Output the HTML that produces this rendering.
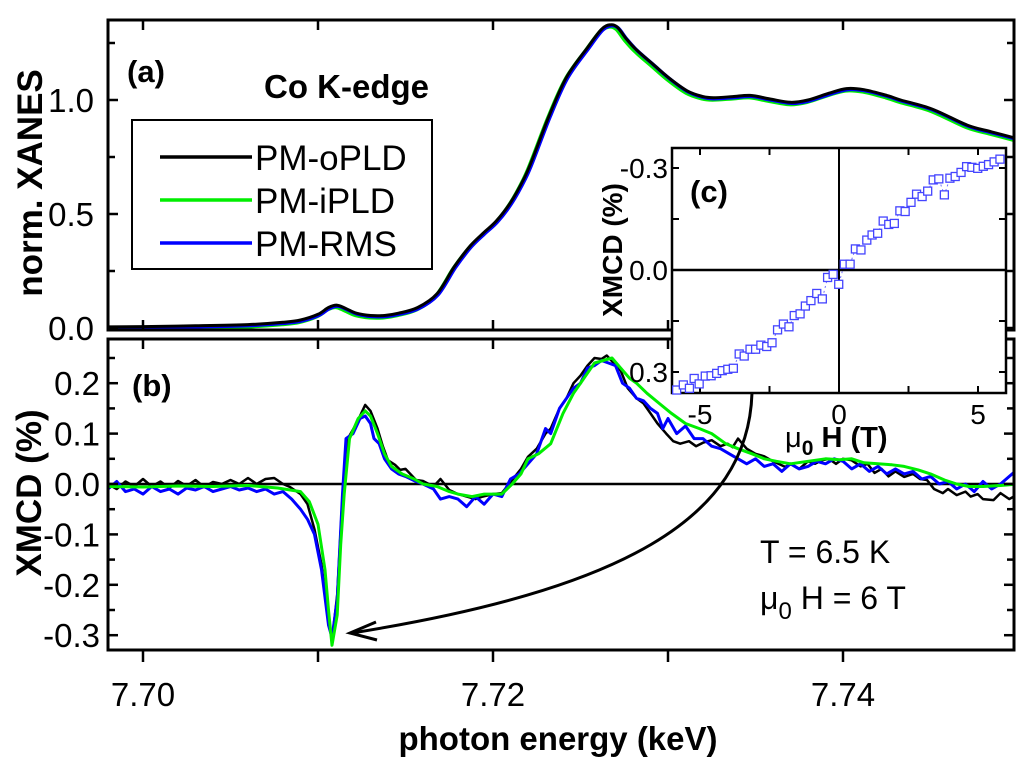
<!DOCTYPE html>
<html><head><meta charset="utf-8"><style>
html,body{margin:0;padding:0;background:#fff;}
svg{display:block;font-family:"Liberation Sans",Arial,sans-serif;}
</style></head><body>
<svg id="chart" width="1024" height="760" viewBox="0 0 1024 760" xmlns="http://www.w3.org/2000/svg">
<g id="gA"></g>
<g id="gB"></g>
<g id="gArrow"></g>
<g id="gC"></g>
</svg>
<script>
// ---- data ----
const xanesE=[7.698,7.700,7.703,7.706,7.708,7.709,7.7100,7.7106,7.7111,7.7116,7.7122,7.713,7.7138,7.7146,7.7157,7.7168,7.7178,7.7187,7.7195,7.7202,7.721,7.7218,7.7223,7.7232,7.7242,7.7254,7.7262,7.7267,7.7271,7.7276,7.7282,7.7291,7.7300,7.7311,7.7320,7.7326,7.7337,7.7347,7.7358,7.7370,7.7380,7.7392,7.7402,7.7412,7.7425,7.7433,7.7451,7.7471,7.7485,7.75];
const xanesV=[0.005,0.006,0.01,0.015,0.025,0.035,0.06,0.09,0.10,0.085,0.065,0.055,0.055,0.065,0.09,0.15,0.27,0.36,0.42,0.47,0.55,0.66,0.75,0.93,1.10,1.23,1.31,1.33,1.32,1.27,1.22,1.16,1.10,1.04,1.015,1.01,1.015,1.02,1.005,0.99,1.0,1.03,1.05,1.045,1.02,1.0,0.96,0.89,0.86,0.83];
const xmcdBlack=[[7.698,0.0],[7.6985,-0.01],[7.699,0.005],[7.6995,-0.005],[7.700,0.01],[7.7005,-0.005],[7.701,0.005],[7.7015,-0.008],[7.702,0.006],[7.7025,-0.004],[7.703,0.008],[7.7035,-0.006],[7.704,0.004],[7.7045,0.0],[7.705,0.008],[7.7055,0.0],[7.706,0.012],[7.7065,0.0],[7.707,0.01],[7.7075,0.012],[7.708,0.0],[7.7084,-0.006],[7.709,-0.02],[7.7094,-0.04],[7.7098,-0.09],[7.7102,-0.16],[7.7106,-0.27],[7.7108,-0.31],[7.7111,-0.22],[7.7114,-0.025],[7.7117,0.09],[7.7122,0.12],[7.7127,0.157],[7.713,0.145],[7.7134,0.11],[7.7137,0.075],[7.714,0.047],[7.7144,0.038],[7.7147,0.028],[7.715,0.03],[7.7156,0.008],[7.716,0.006],[7.7166,-0.005],[7.717,0.01],[7.7175,-0.012],[7.718,-0.02],[7.7185,-0.025],[7.719,-0.03],[7.7194,-0.025],[7.72,-0.02],[7.7205,-0.018],[7.7211,0.008],[7.7216,0.03],[7.722,0.054],[7.7225,0.07],[7.723,0.1],[7.7233,0.11],[7.7238,0.15],[7.7242,0.17],[7.7246,0.2],[7.725,0.215],[7.7254,0.235],[7.7258,0.25],[7.7262,0.248],[7.7265,0.255],[7.7269,0.24],[7.7273,0.225],[7.7277,0.19],[7.7282,0.17],[7.7286,0.16],[7.729,0.14],[7.7294,0.12],[7.7299,0.10],[7.7303,0.085],[7.7307,0.08],[7.7312,0.085],[7.7316,0.075],[7.732,0.082],[7.7325,0.087],[7.733,0.075],[7.7334,0.08],[7.7337,0.073],[7.734,0.09],[7.7345,0.07],[7.735,0.06],[7.7355,0.055],[7.736,0.045],[7.7367,0.034],[7.737,0.04],[7.7375,0.03],[7.738,0.045],[7.7384,0.04],[7.7388,0.047],[7.7392,0.05],[7.7396,0.04],[7.74,0.05],[7.7405,0.047],[7.741,0.035],[7.7414,0.04],[7.7418,0.022],[7.7422,0.03],[7.7426,0.015],[7.743,0.025],[7.7435,0.014],[7.744,0.02],[7.7444,0.01],[7.7448,0.008],[7.7452,-0.01],[7.7457,-0.018],[7.746,-0.01],[7.7465,-0.022],[7.747,-0.015],[7.7473,-0.025],[7.7477,-0.02],[7.748,-0.03],[7.7486,-0.032],[7.749,-0.018],[7.7495,-0.03],[7.75,-0.02]];
const xmcdGreen=[[7.698,-0.005],[7.700,-0.006],[7.702,-0.004],[7.704,-0.005],[7.706,-0.003],[7.7077,-0.008],[7.709,-0.015],[7.7095,-0.035],[7.710,-0.08],[7.7104,-0.17],[7.7106,-0.25],[7.7108,-0.32],[7.7111,-0.26],[7.7113,-0.12],[7.7115,-0.02],[7.7118,0.09],[7.7123,0.13],[7.7127,0.145],[7.713,0.135],[7.7134,0.10],[7.7138,0.06],[7.7142,0.035],[7.7148,0.02],[7.7155,0.01],[7.716,0.0],[7.7168,-0.005],[7.7175,-0.015],[7.718,-0.02],[7.7188,-0.025],[7.7195,-0.02],[7.7205,-0.02],[7.7211,0.0],[7.7216,0.02],[7.722,0.05],[7.7226,0.06],[7.7233,0.08],[7.724,0.14],[7.7246,0.18],[7.7252,0.21],[7.7258,0.24],[7.7263,0.245],[7.7268,0.25],[7.7273,0.23],[7.7278,0.21],[7.7282,0.2],[7.7288,0.18],[7.7295,0.16],[7.7302,0.14],[7.731,0.12],[7.7318,0.11],[7.7325,0.1],[7.7333,0.08],[7.734,0.07],[7.7348,0.06],[7.7355,0.05],[7.7362,0.045],[7.737,0.04],[7.738,0.045],[7.739,0.05],[7.7398,0.048],[7.7405,0.05],[7.7412,0.042],[7.742,0.04],[7.7428,0.038],[7.7435,0.035],[7.7443,0.028],[7.745,0.02],[7.7458,0.008],[7.7465,0.0],[7.7472,-0.005],[7.748,-0.005],[7.749,-0.003],[7.75,0.0]];
const xmcdBlue=[[7.698,-0.01],[7.6985,0.005],[7.699,-0.015],[7.6995,-0.01],[7.700,-0.02],[7.7005,-0.005],[7.701,-0.015],[7.7015,-0.01],[7.702,-0.02],[7.7025,-0.008],[7.703,-0.012],[7.7035,-0.005],[7.704,-0.015],[7.7045,-0.01],[7.705,-0.005],[7.7055,-0.012],[7.706,-0.008],[7.7065,-0.015],[7.707,-0.01],[7.7075,-0.02],[7.708,-0.015],[7.7085,-0.03],[7.709,-0.05],[7.7094,-0.07],[7.7098,-0.1],[7.7102,-0.17],[7.7106,-0.28],[7.7108,-0.305],[7.7111,-0.23],[7.7114,-0.02],[7.7116,0.09],[7.712,0.1],[7.7124,0.13],[7.7127,0.135],[7.713,0.12],[7.7132,0.09],[7.7135,0.08],[7.7138,0.05],[7.7142,0.03],[7.7146,0.02],[7.715,0.015],[7.7156,0.005],[7.716,0.0],[7.7166,-0.01],[7.717,-0.03],[7.7175,-0.025],[7.718,-0.03],[7.7185,-0.045],[7.719,-0.025],[7.7195,-0.04],[7.72,-0.02],[7.7205,-0.025],[7.721,0.01],[7.7215,0.02],[7.722,0.04],[7.7225,0.06],[7.723,0.11],[7.7233,0.1],[7.7238,0.15],[7.7242,0.17],[7.7246,0.19],[7.725,0.2],[7.7254,0.23],[7.7258,0.235],[7.7262,0.245],[7.7266,0.24],[7.727,0.235],[7.7274,0.2],[7.7278,0.19],[7.7282,0.17],[7.7286,0.165],[7.729,0.15],[7.7294,0.14],[7.7297,0.11],[7.73,0.13],[7.7305,0.1],[7.731,0.115],[7.7315,0.09],[7.732,0.09],[7.7325,0.075],[7.733,0.07],[7.7335,0.06],[7.734,0.05],[7.7345,0.04],[7.735,0.05],[7.7355,0.035],[7.736,0.04],[7.7365,0.025],[7.737,0.04],[7.7375,0.03],[7.738,0.035],[7.7385,0.045],[7.739,0.04],[7.7395,0.05],[7.74,0.045],[7.7405,0.03],[7.741,0.04],[7.7415,0.025],[7.742,0.035],[7.7425,0.02],[7.743,0.03],[7.7435,0.02],[7.744,0.025],[7.7445,0.01],[7.745,0.015],[7.7455,0.0],[7.746,0.005],[7.7465,-0.01],[7.747,0.0],[7.7475,-0.015],[7.748,0.005],[7.7485,-0.01],[7.749,0.0],[7.7495,0.015],[7.75,0.03]];
const insetH=[-5.84,-5.60,-5.38,-5.21,-5.03,-4.81,-4.60,-4.40,-4.20,-4.00,-3.80,-3.59,-3.41,-3.20,-3.00,-2.81,-2.60,-2.41,-2.21,-2.00,-1.80,-1.61,-1.40,-1.21,-1.01,-0.80,-0.60,-0.41,-0.21,-0.01,0.19,0.40,0.59,0.79,1.00,1.19,1.39,1.59,1.79,1.99,2.19,2.38,2.59,2.79,2.99,3.19,3.39,3.59,3.79,3.99,4.18,4.39,4.59,4.78,4.99,5.19,5.38,5.58,5.79];
const insetV=[0.353,0.338,0.348,0.319,0.335,0.312,0.311,0.304,0.296,0.292,0.289,0.247,0.253,0.233,0.233,0.221,0.225,0.214,0.176,0.159,0.167,0.134,0.129,0.106,0.090,0.069,0.085,0.022,0.013,0.042,-0.017,-0.017,-0.062,-0.059,-0.088,-0.103,-0.108,-0.144,-0.134,-0.137,-0.174,-0.172,-0.199,-0.223,-0.216,-0.232,-0.265,-0.268,-0.221,-0.270,-0.275,-0.287,-0.304,-0.302,-0.299,-0.305,-0.310,-0.318,-0.326];
const energyTicks=[7.70,7.71,7.72,7.73,7.74];
const energyLabels=["7.70","7.72","7.74"];
const xanesTicks=[0,0.25,0.5,0.75,1.0,1.25];
const xanesLabels=["0.0","0.5","1.0"];
const xmcdTicks=[-0.3,-0.25,-0.2,-0.15,-0.1,-0.05,0,0.05,0.1,0.15,0.2,0.25];
const xmcdLabels=["-0.3","-0.2","-0.1","0.0","0.1","0.2"];
const insetHTicks=[-5,-2.5,0,2.5,5];
const insetHLabels=["-5","0","5"];
const insetVTicks=[-0.3,-0.15,0,0.15,0.3];
const insetVLabels=["-0.3","0.0","0.3"];

// ---- axes ----
const L=108,R=1014;
const xE=e=>143+(e-7.70)*17500;
const yA=v=>328-228*v;
const yB=v=>484-504*v;
const xH=h=>839+27.8*h;
const yC=v=>270+340*v;
const NS="http://www.w3.org/2000/svg";
function mk(parent,tag,attrs,text){const el=document.createElementNS(NS,tag);for(const k in attrs)el.setAttribute(k,attrs[k]);if(text!==undefined)el.textContent=text;parent.appendChild(el);return el;}
function smoothPath(pts){let d="M"+pts[0][0].toFixed(1)+","+pts[0][1].toFixed(1);for(let i=0;i<pts.length-1;i++){const p0=pts[i-1]||pts[i],p1=pts[i],p2=pts[i+1],p3=pts[i+2]||p2;const c1=[p1[0]+(p2[0]-p0[0])/6,p1[1]+(p2[1]-p0[1])/6],c2=[p2[0]-(p3[0]-p1[0])/6,p2[1]-(p3[1]-p1[1])/6];d+="C"+c1[0].toFixed(1)+","+c1[1].toFixed(1)+" "+c2[0].toFixed(1)+","+c2[1].toFixed(1)+" "+p2[0].toFixed(1)+","+p2[1].toFixed(1);}return d;}
const svg=document.getElementById('chart');
const defs=mk(svg,'defs',{});
const cpA=mk(defs,'clipPath',{id:'clipA'});mk(cpA,'rect',{x:L,y:20,width:R-L,height:310});
const cpB=mk(defs,'clipPath',{id:'clipB'});mk(cpB,'rect',{x:L,y:339,width:R-L,height:311});

// ---- panel a ----
const gA=document.getElementById('gA');
const xanesPts=xanesE.map((e,i)=>[xE(e),yA(xanesV[i])]);
const dA=smoothPath(xanesPts);
let p;
p=mk(gA,'path',{d:dA,fill:'none',stroke:'#00ee00','stroke-width':4,transform:'translate(-1,2)','clip-path':'url(#clipA)'});


p=mk(gA,'path',{d:dA,fill:'none',stroke:'#0000ff','stroke-width':3.5,transform:'translate(1,1)','clip-path':'url(#clipA)'});


p=mk(gA,'path',{d:dA,fill:'none',stroke:'#000','stroke-width':3,'clip-path':'url(#clipA)'});


let fr=mk(gA,'rect',{x:L,y:20,width:R-L,height:310,fill:'none',stroke:'#000','stroke-width':3});


energyTicks.forEach(e=>{mk(gA,'line',{x1:xE(e),x2:xE(e),y1:20,y2:30,stroke:'#000','stroke-width':2.5});mk(gA,'line',{x1:xE(e),x2:xE(e),y1:330,y2:320,stroke:'#000','stroke-width':2.5});});
xanesTicks.forEach((v,i)=>{const len=(i%2===0)?10:7;mk(gA,'line',{x1:L,x2:L+len,y1:yA(v),y2:yA(v),stroke:'#000','stroke-width':2.5});mk(gA,'line',{x1:R,x2:R-len,y1:yA(v),y2:yA(v),stroke:'#000','stroke-width':2.5});});
xanesLabels.forEach(s=>{const t=mk(gA,'text',{x:94,y:yA(parseFloat(s))+12,'text-anchor':'end','font-size':33,fill:'#000'},s);

});
let t=mk(gA,'text',{x:0,y:0,transform:'translate(42,183) rotate(-90)','text-anchor':'middle','font-size':35,'font-weight':'bold'},'norm. XANES');


t=mk(gA,'text',{x:127,y:82,'font-size':31,'font-weight':'bold'},'(a)');


t=mk(gA,'text',{x:264,y:98,'font-size':33,'font-weight':'bold'},'Co K-edge');


const leg=mk(gA,'g',{});


mk(leg,'rect',{x:132,y:120,width:300,height:149,fill:'#fff',stroke:'#000','stroke-width':2});
const legNames=["PM-oPLD","PM-iPLD","PM-RMS"];
const legColors=["#000","#00ee00","#0000ff"];
legNames.forEach((n,i)=>{const y=157+i*43;const g=mk(leg,'g',{});


mk(g,'line',{x1:160,x2:252,y1:y,y2:y,stroke:legColors[i],'stroke-width':3.5});mk(g,'text',{x:255,y:y+13,'font-size':35},n);});

// ---- panel b ----
const gB=document.getElementById('gB');
mk(gB,'line',{x1:L,x2:R,y1:yB(0),y2:yB(0),stroke:'#000','stroke-width':2.5});
const series=[[xmcdBlack,'#000',2.5,'xmcd-pm-opld'],[xmcdBlue,'#0000ff',3,'xmcd-pm-rms'],[xmcdGreen,'#00ee00',3,'xmcd-pm-ipld']];
series.forEach(s=>{const pts=s[0].map(d=>xE(d[0]).toFixed(1)+","+yB(d[1]).toFixed(1)).join(" ");const pl=mk(gB,'polyline',{points:pts,fill:'none',stroke:s[1],'stroke-width':s[2],'stroke-linejoin':'round','clip-path':'url(#clipB)'});

});
fr=mk(gB,'rect',{x:L,y:339,width:R-L,height:311,fill:'none',stroke:'#000','stroke-width':3});


energyTicks.forEach(e=>{mk(gB,'line',{x1:xE(e),x2:xE(e),y1:339,y2:349,stroke:'#000','stroke-width':2.5});mk(gB,'line',{x1:xE(e),x2:xE(e),y1:650,y2:662,stroke:'#000','stroke-width':2.5});});
xmcdTicks.forEach((v,i)=>{const len=(i%2===0)?10:7;mk(gB,'line',{x1:L,x2:L+len,y1:yB(v),y2:yB(v),stroke:'#000','stroke-width':2.5});mk(gB,'line',{x1:R,x2:R-len,y1:yB(v),y2:yB(v),stroke:'#000','stroke-width':2.5});});
xmcdLabels.forEach(s=>{const tt=mk(gB,'text',{x:100,y:yB(parseFloat(s))+12,'text-anchor':'end','font-size':33},s);

});
energyLabels.forEach(s=>{const tt=mk(gB,'text',{x:xE(parseFloat(s)),y:706,'text-anchor':'middle','font-size':33},s);

});
t=mk(gB,'text',{x:0,y:0,transform:'translate(41,493) rotate(-90)','text-anchor':'middle','font-size':35,'font-weight':'bold'},'XMCD (%)');


t=mk(gB,'text',{x:558,y:750,'text-anchor':'middle','font-size':33,'font-weight':'bold'},'photon energy (keV)');


t=mk(gB,'text',{x:132,y:396,'font-size':31,'font-weight':'bold'},'(b)');


t=mk(gB,'text',{x:760,y:563,'font-size':32},'T = 6.5 K');


t=mk(gB,'text',{x:760,y:609,'font-size':32});


t.innerHTML='<tspan>μ</tspan><tspan dy="10" font-size="24">0</tspan><tspan dy="-10"> H = 6 T</tspan>';

// ---- arrow ----
const gArr=document.getElementById('gArrow');
mk(gArr,'path',{d:'M752,393 C748,520 620,590 352,633',fill:'none',stroke:'#000','stroke-width':3});
mk(gArr,'path',{d:'M376,622 L350,633 L377,640',fill:'none',stroke:'#000','stroke-width':3});

// ---- inset c ----
const gC=document.getElementById('gC');
const cx0=672,cy0=148,cx1=1006,cy1=393;
mk(gC,'rect',{x:cx0,y:cy0,width:cx1-cx0,height:cy1-cy0,fill:'#fff',stroke:'#000','stroke-width':2.5});
mk(gC,'line',{x1:cx0,x2:cx1,y1:yC(0),y2:yC(0),stroke:'#000','stroke-width':2.5});
mk(gC,'line',{x1:xH(0),x2:xH(0),y1:cy0,y2:cy1,stroke:'#000','stroke-width':2});
insetHTicks.forEach(h=>{mk(gC,'line',{x1:xH(h),x2:xH(h),y1:cy0,y2:cy0+7,stroke:'#000','stroke-width':2});mk(gC,'line',{x1:xH(h),x2:xH(h),y1:cy1,y2:cy1-7,stroke:'#000','stroke-width':2});});
insetVTicks.forEach(v=>{mk(gC,'line',{x1:cx0,x2:cx0+7,y1:yC(v),y2:yC(v),stroke:'#000','stroke-width':2});mk(gC,'line',{x1:cx1,x2:cx1-7,y1:yC(v),y2:yC(v),stroke:'#000','stroke-width':2});});
const pathPts=insetH.map((h,i)=>xH(h).toFixed(1)+","+yC(insetV[i]).toFixed(1)).join(" ");
mk(gC,'polyline',{points:pathPts,fill:'none',stroke:'#6f6fff','stroke-width':1,'stroke-dasharray':'2,3'});
insetH.forEach((h,i)=>{const sq=mk(gC,'rect',{x:xH(h)-4,y:yC(insetV[i])-4,width:8,height:8,fill:'#fff',stroke:'#4444ff','stroke-width':1.3});

});
insetHLabels.forEach(s=>{const tt=mk(gC,'text',{x:xH(parseFloat(s)),y:424,'text-anchor':'middle','font-size':28},s);

});
insetVLabels.forEach(s=>{const tt=mk(gC,'text',{x:668,y:yC(parseFloat(s))+10,'text-anchor':'end','font-size':28},s);

});
t=mk(gC,'text',{x:690,y:202,'font-size':31,'font-weight':'bold'},'(c)');


t=mk(gC,'text',{x:0,y:0,transform:'translate(622,250) rotate(-90)','text-anchor':'middle','font-size':28,'font-weight':'bold'},'XMCD (%)');


t=mk(gC,'text',{x:785,y:447,'font-size':29,'font-weight':'bold'});


t.innerHTML='<tspan font-weight="normal">μ</tspan><tspan dy="8" font-size="21">0</tspan><tspan dy="-8"> H (T)</tspan>';
</script>
</body></html>
